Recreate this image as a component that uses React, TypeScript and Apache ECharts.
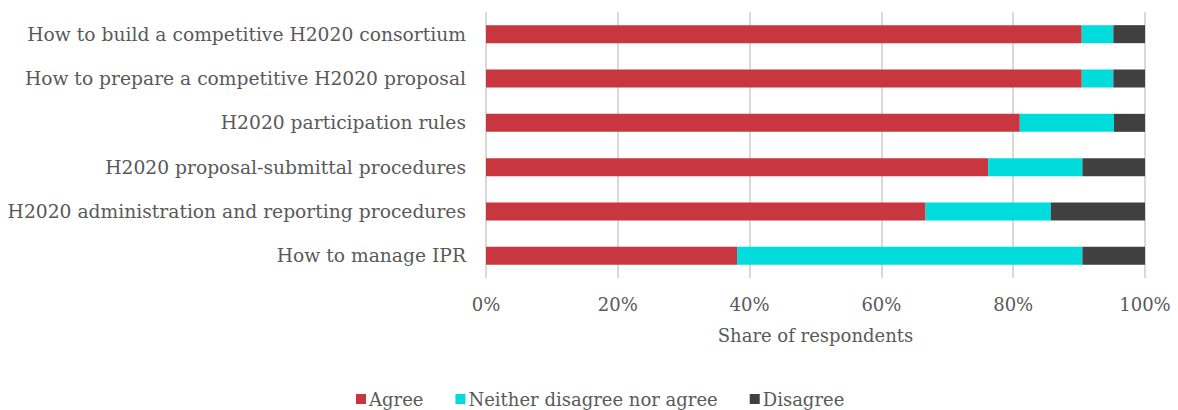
import React, { useEffect, useRef } from "react";
import * as echarts from "echarts";

const categories = [
  "How to build a competitive H2020 consortium",
  "How to prepare a competitive H2020 proposal",
  "H2020 participation rules",
  "H2020 proposal-submittal procedures",
  "H2020 administration and reporting procedures",
  "How to manage IPR",
];
const agree = [90.4, 90.4, 81.0, 76.2, 66.7, 38.1];
const neither = [4.8, 4.8, 14.3, 14.3, 19.0, 52.4];
const disagree = [4.8, 4.8, 4.7, 9.5, 14.3, 9.5];

const FONT = "DejaVu Serif";
const TXT = "#595959";

export default function App() {
  const ref = useRef<HTMLDivElement>(null);
  useEffect(() => {
    if (!ref.current) return;
    const chart = echarts.init(ref.current, null, { renderer: "svg" });
    const mk = (name: string, data: number[], color: string) => ({
      name,
      type: "bar",
      stack: "total",
      data,
      barWidth: 18,
      itemStyle: { color },
      emphasis: { disabled: true },
    });
    chart.setOption({
      animation: false,
      textStyle: { fontFamily: FONT, color: TXT },
      grid: { left: 486, right: 33, top: 12, bottom: 132, containLabel: false },
      xAxis: {
        type: "value",
        min: 0,
        max: 100,
        interval: 20,
        axisLabel: {
          formatter: "{value}%",
          color: TXT,
          fontFamily: FONT,
          fontSize: 18,
          margin: 17,
        },
        axisLine: { show: false },
        axisTick: { show: false },
        splitLine: { show: true, lineStyle: { color: "#d9d9d9", width: 2 } },
        name: "Share of respondents",
        nameLocation: "middle",
        nameGap: 48,
        nameTextStyle: { color: TXT, fontFamily: FONT, fontSize: 18 },
      },
      yAxis: {
        type: "category",
        inverse: true,
        data: categories,
        axisLine: { show: false },
        axisTick: { show: false },
        axisLabel: { color: TXT, fontFamily: FONT, fontSize: 18.7, margin: 20 },
      },
      legend: {
        top: 388,
        left: 352,
        padding: [2, 4, 2, 4],
        itemWidth: 10,
        itemHeight: 10,
        itemGap: 32,
        icon: "rect",
        textStyle: { color: TXT, fontFamily: FONT, fontSize: 18, padding: [0, 0, 0, -2] },
        data: ["Agree", "Neither disagree nor agree", "Disagree"],
      },
      series: [
        mk("Agree", agree, "#C8373F"),
        mk("Neither disagree nor agree", neither, "#00DCDC"),
        mk("Disagree", disagree, "#404040"),
      ],
    });
    return () => chart.dispose();
  }, []);
  return <div ref={ref} style={{ width: 1178, height: 410, position: "absolute", left: 0, top: 0 }} />;
}
